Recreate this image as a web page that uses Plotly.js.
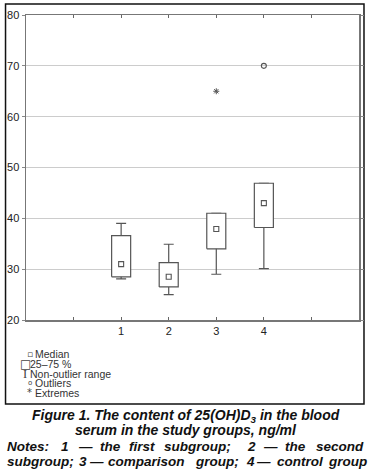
<!DOCTYPE html>
<html>
<head>
<meta charset="utf-8">
<script src="https://cdn.plot.ly/plotly-3.0.1.min.js"></script>
<style>html,body{margin:0;padding:0;background:#fff;}#chart{width:368px;height:475px;}</style>
</head>
<body>
<div id="chart"></div>
<script>
// ---- data ----
const groups = ['1', '2', '3', '4'];
const groupX = [1, 2, 3, 4];
const lowerWhisker = [28.1, 25.0, 29.0, 30.1];
const q1 = [28.5, 26.5, 34.0, 38.2];
const median = [31.0, 28.5, 37.9, 43.0];
const q3 = [36.6, 31.3, 41.0, 46.9];
const upperWhisker = [39.0, 34.9, 41.0, 46.9];
const outlierX = [4];
const outlierY = [70];
const extremeX = [3];
const extremeY = [65];
const xTickMarks = [0, 1, 2, 3, 4, 5];
const yTicks = [20, 30, 40, 50, 60, 70, 80];
const legendLabels = ['Median', '25\u201375 %', 'Non-outlier range', 'Outliers', 'Extremes'];
const legendSymbols = ['\u25AB', '\u25A1', 'I', 'o', '*'];
const captionLines = ['Figure 1. The content of 25(OH)D<sub>3</sub> in the blood', 'serum in the study groups, ng/ml'];
const notesLine1Words = ['Notes:', '1', '\u2014', 'the', 'first', 'subgroup;', '2', '\u2014', 'the', 'second'];
const notesLine2Words = ['subgroup;', '3', '\u2014', 'comparison', 'group;', '4', '\u2014', 'control', 'group'];

// ---- geometry helpers ----
const W = 368, H = 475;
const M = {l: 25.5, r: 9, t: 15, b: 155};
const PW = W - M.l - M.r, PH = H - M.t - M.b;
const px = v => (v - M.l) / PW;
const py = v => (H - M.b - v) / PH;
const halfW = 0.2;
const ink = '#555555';

// whiskers: error bars from q1 to fences
const whiskers = {
  type: 'scatter', mode: 'markers', x: groupX, y: q1,
  marker: {size: 1, color: 'rgba(0,0,0,0)'},
  error_y: {type: 'data', symmetric: false,
    array: upperWhisker.map((u, i) => u - q1[i]),
    arrayminus: lowerWhisker.map((l, i) => q1[i] - l),
    color: ink, thickness: 1.2, width: 5},
  hoverinfo: 'skip', showlegend: false
};

// boxes: filled rectangles q1..q3
const bx = [], by = [];
groupX.forEach((x, i) => {
  bx.push(x - halfW, x + halfW, x + halfW, x - halfW, x - halfW, null);
  by.push(q1[i], q1[i], q3[i], q3[i], q1[i], null);
});
const boxes = {
  type: 'scatter', mode: 'lines', x: bx, y: by, fill: 'toself',
  fillcolor: '#ffffff', line: {color: ink, width: 1.2},
  hoverinfo: 'skip', showlegend: false
};

const medians = {
  type: 'scatter', mode: 'markers', x: groupX, y: median, xaxis: 'x2',
  marker: {symbol: 'square-open', size: 5, color: ink, line: {width: 1.1, color: ink}},
  showlegend: false
};
const outliers = {
  type: 'scatter', mode: 'markers', x: outlierX, y: outlierY,
  marker: {symbol: 'circle-open', size: 5, color: ink, line: {width: 1.1, color: ink}},
  showlegend: false
};
const extremes = {
  type: 'scatter', mode: 'markers', x: extremeX, y: extremeY,
  marker: {symbol: 'asterisk-open', size: 5, color: ink, line: {width: 1, color: ink}},
  showlegend: false
};

const annotations = [];
const legendY = [354, 363.6, 373.6, 383.3, 392.6];
const legendSymX = [29.5, 24.5, 24.5, 29.5, 29.5];
const legendSymSize = [9, 12, 12.5, 7, 10];
const legendTextX = [34, 28.5, 29, 34, 34];
legendLabels.forEach((t, i) => {
  annotations.push({xref: 'paper', yref: 'paper', x: px(legendSymX[i]), y: py(legendY[i]),
    xanchor: 'center', yanchor: 'middle', showarrow: false, text: legendSymbols[i], borderpad: 0,
    font: {family: i === 2 ? 'Liberation Serif' : 'DejaVu Sans', size: legendSymSize[i], color: '#444'}});
  annotations.push({xref: 'paper', yref: 'paper', x: px(legendTextX[i]), y: py(legendY[i]),
    xanchor: 'left', yanchor: 'middle', showarrow: false, text: t, borderpad: 0,
    font: {family: 'Liberation Sans Narrow, Arial Narrow, Liberation Sans', size: 10.5, color: '#333'}});
});

const capFont = {family: 'Liberation Sans, Arial', size: 14, color: '#111', weight: 'bold', style: 'italic'};
const noteFont = {family: 'Liberation Sans, Arial', size: 13.5, color: '#111', weight: 'bold', style: 'italic'};
const capY = [415.5, 429.5];
captionLines.forEach((t, i) => {
  annotations.push({xref: 'paper', yref: 'paper', x: px(186), y: py(capY[i]),
    xanchor: 'center', yanchor: 'middle', showarrow: false, text: t, font: capFont, borderpad: 0});
});
const word1X = [5, 60, 77, 99, 128, 163, 245.7, 262, 284, 315];
notesLine1Words.forEach((w, i) => {
  annotations.push({xref: 'paper', yref: 'paper', x: px(word1X[i]), y: py(446.5),
    xanchor: 'left', yanchor: 'middle', showarrow: false, text: w, font: noteFont, borderpad: 0});
});
const word2X = [5, 78, 88, 106.7, 193.5, 244.5, 255, 276, 326.5];
notesLine2Words.forEach((w, i) => {
  annotations.push({xref: 'paper', yref: 'paper', x: px(word2X[i]), y: py(461),
    xanchor: 'left', yanchor: 'middle', showarrow: false, text: w, font: noteFont, borderpad: 0});
});

const layout = {
  width: W, height: H,
  margin: M,
  paper_bgcolor: '#ffffff', plot_bgcolor: '#ffffff',
  showlegend: false,
  font: {family: 'Liberation Sans, Arial', size: 11, color: '#222'},
  xaxis: {
    range: [-1, 6], tickvals: xTickMarks, showticklabels: false,
    ticks: 'inside', ticklen: 3, tickcolor: '#666', tickwidth: 1,
    showline: true, linecolor: '#777', linewidth: 1.5, mirror: 'ticks',
    showgrid: false, zeroline: false, fixedrange: true
  },
  xaxis2: {
    overlaying: 'x', side: 'bottom', range: [-1, 6], tickvals: groupX, ticktext: groups,
    ticks: '', showline: false, showgrid: false, zeroline: false, fixedrange: true,
    ticklabelstandoff: 3,
    tickfont: {size: 11, color: '#222'}
  },
  yaxis: {
    range: [20, 80], tickvals: yTicks,
    ticks: 'outside', ticklen: 3, tickcolor: '#888', tickwidth: 1,
    showline: true, linecolor: '#777', linewidth: 1.5, mirror: 'ticks',
    showgrid: true, gridcolor: '#cccccc', gridwidth: 1, zeroline: false, fixedrange: true,
    tickfont: {size: 11, color: '#222'}
  },
  shapes: [{type: 'rect', xref: 'paper', yref: 'paper',
    x0: px(5), x1: px(364), y0: py(404), y1: py(4),
    line: {color: '#111', width: 1.5}, fillcolor: 'rgba(0,0,0,0)', layer: 'below'}],
  annotations: annotations
};

Plotly.newPlot('chart', [whiskers, boxes, medians, outliers, extremes], layout, {staticPlot: true, displayModeBar: false});
</script>
</body>
</html>
